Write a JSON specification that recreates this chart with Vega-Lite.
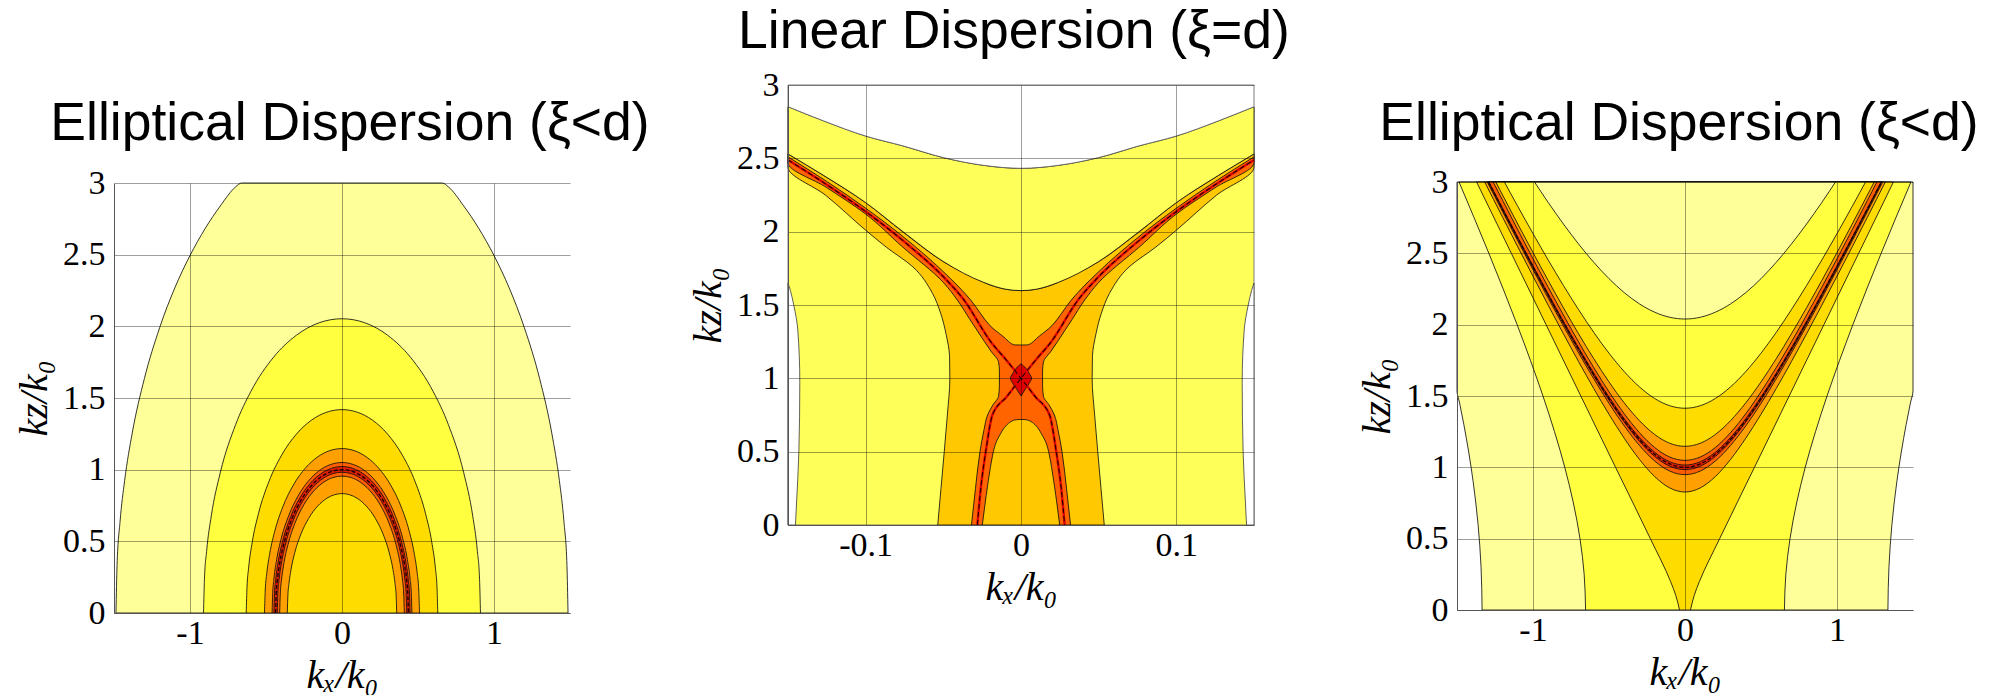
{
"$schema": "https://vega.github.io/schema/vega-lite/v6.json",
"background": "white",
"padding": {"left": 14, "top": 4, "right": 0, "bottom": 0},
"config": {
 "view": {"stroke": null},
 "area": {"interpolate": "monotone", "stroke": "#111", "strokeWidth": 0.85, "opacity": 1},
 "line": {"interpolate": "monotone"},
 "axis": {"labelFont": "Liberation Serif", "labelFontSize": 34, "labelColor": "#000", "labelPadding": 9, "labelFlush": false,
  "titleFont": "Liberation Serif", "titleFontSize": 40, "titleFontStyle": "italic", "titleFontWeight": "normal", "titleColor": "#000",
  "grid": true, "gridColor": "#000", "gridOpacity": 0.38, "gridWidth": 1, "ticks": false, "domainColor": "#555", "domainWidth": 1, "zindex": 1},
 "axisX": {"titlePadding": 5, "labelPadding": 3},
 "axisY": {"titlePadding": 8},
 "title": {"font": "Liberation Sans", "fontSize": 53.5, "fontWeight": "normal", "color": "#000"}
},
"hconcat": [
{"hconcat": [
{"vconcat": [
{"width": 456, "height": 11, "data": {"values": [{}]}, "mark": {"type": "text", "text": ""}},
{
 "width": 456, "height": 430,
 "title": {"text": "Elliptical Dispersion (ξ<d)", "offset": 15, "dx": 8},
 "data": {"values": [
  {"c":"e1","x":-1.487,"y":0},{"c":"e1","x":-1.48,"y":0.33},{"c":"e1","x":-1.46,"y":0.64},{"c":"e1","x":-1.43,"y":0.924},{"c":"e1","x":-1.38,"y":1.256},{"c":"e1","x":-1.3,"y":1.636},{"c":"e1","x":-1.2,"y":1.99},{"c":"e1","x":-1.1,"y":2.268},{"c":"e1","x":-1,"y":2.494},{"c":"e1","x":-0.9,"y":2.683},{"c":"e1","x":-0.8,"y":2.841},{"c":"e1","x":-0.7,"y":2.973},{"c":"e1","x":-0.66,"y":3},{"c":"e1","x":0,"y":3},{"c":"e1","x":0.66,"y":3},{"c":"e1","x":0.7,"y":2.973},{"c":"e1","x":0.8,"y":2.841},{"c":"e1","x":0.9,"y":2.683},{"c":"e1","x":1,"y":2.494},{"c":"e1","x":1.1,"y":2.268},{"c":"e1","x":1.2,"y":1.99},{"c":"e1","x":1.3,"y":1.636},{"c":"e1","x":1.38,"y":1.256},{"c":"e1","x":1.43,"y":0.924},{"c":"e1","x":1.46,"y":0.64},{"c":"e1","x":1.48,"y":0.33},{"c":"e1","x":1.487,"y":0},
  {"c":"e2","x":-0.911,"y":0},{"c":"e2","x":-0.905,"y":0.235},{"c":"e2","x":-0.89,"y":0.438},{"c":"e2","x":-0.86,"y":0.677},{"c":"e2","x":-0.8,"y":0.982},{"c":"e2","x":-0.7,"y":1.314},{"c":"e2","x":-0.6,"y":1.545},{"c":"e2","x":-0.45,"y":1.785},{"c":"e2","x":-0.3,"y":1.938},{"c":"e2","x":-0.15,"y":2.025},{"c":"e2","x":0,"y":2.053},{"c":"e2","x":0.15,"y":2.025},{"c":"e2","x":0.3,"y":1.938},{"c":"e2","x":0.45,"y":1.785},{"c":"e2","x":0.6,"y":1.545},{"c":"e2","x":0.7,"y":1.314},{"c":"e2","x":0.8,"y":0.982},{"c":"e2","x":0.86,"y":0.677},{"c":"e2","x":0.89,"y":0.438},{"c":"e2","x":0.905,"y":0.235},{"c":"e2","x":0.911,"y":0},
  {"c":"e3","x":-0.63,"y":0},{"c":"e3","x":-0.625,"y":0.18},{"c":"e3","x":-0.615,"y":0.308},{"c":"e3","x":-0.59,"y":0.498},{"c":"e3","x":-0.55,"y":0.692},{"c":"e3","x":-0.48,"y":0.919},{"c":"e3","x":-0.4,"y":1.096},{"c":"e3","x":-0.3,"y":1.248},{"c":"e3","x":-0.2,"y":1.346},{"c":"e3","x":-0.1,"y":1.401},{"c":"e3","x":0,"y":1.419},{"c":"e3","x":0.1,"y":1.401},{"c":"e3","x":0.2,"y":1.346},{"c":"e3","x":0.3,"y":1.248},{"c":"e3","x":0.4,"y":1.096},{"c":"e3","x":0.48,"y":0.919},{"c":"e3","x":0.55,"y":0.692},{"c":"e3","x":0.59,"y":0.498},{"c":"e3","x":0.615,"y":0.308},{"c":"e3","x":0.625,"y":0.18},{"c":"e3","x":0.63,"y":0},
  {"c":"e4","x":-0.51,"y":0},{"c":"e4","x":-0.505,"y":0.16},{"c":"e4","x":-0.495,"y":0.276},{"c":"e4","x":-0.475,"y":0.417},{"c":"e4","x":-0.44,"y":0.58},{"c":"e4","x":-0.39,"y":0.739},{"c":"e4","x":-0.32,"y":0.893},{"c":"e4","x":-0.24,"y":1.012},{"c":"e4","x":-0.16,"y":1.089},{"c":"e4","x":-0.08,"y":1.133},{"c":"e4","x":0,"y":1.147},{"c":"e4","x":0.08,"y":1.133},{"c":"e4","x":0.16,"y":1.089},{"c":"e4","x":0.24,"y":1.012},{"c":"e4","x":0.32,"y":0.893},{"c":"e4","x":0.39,"y":0.739},{"c":"e4","x":0.44,"y":0.58},{"c":"e4","x":0.475,"y":0.417},{"c":"e4","x":0.495,"y":0.276},{"c":"e4","x":0.505,"y":0.16},{"c":"e4","x":0.51,"y":0},
  {"c":"e5","x":-0.46,"y":0},{"c":"e5","x":-0.456,"y":0.138},{"c":"e5","x":-0.448,"y":0.238},{"c":"e5","x":-0.43,"y":0.373},{"c":"e5","x":-0.4,"y":0.519},{"c":"e5","x":-0.35,"y":0.681},{"c":"e5","x":-0.29,"y":0.815},{"c":"e5","x":-0.22,"y":0.922},{"c":"e5","x":-0.15,"y":0.993},{"c":"e5","x":-0.075,"y":1.036},{"c":"e5","x":0,"y":1.05},{"c":"e5","x":0.075,"y":1.036},{"c":"e5","x":0.15,"y":0.993},{"c":"e5","x":0.22,"y":0.922},{"c":"e5","x":0.29,"y":0.815},{"c":"e5","x":0.35,"y":0.681},{"c":"e5","x":0.4,"y":0.519},{"c":"e5","x":0.43,"y":0.373},{"c":"e5","x":0.448,"y":0.238},{"c":"e5","x":0.456,"y":0.138},{"c":"e5","x":0.46,"y":0},
  {"c":"er","x":-0.448,"y":0},{"c":"er","x":-0.444,"y":0.136},{"c":"er","x":-0.436,"y":0.235},{"c":"er","x":-0.42,"y":0.356},{"c":"er","x":-0.39,"y":0.503},{"c":"er","x":-0.34,"y":0.666},{"c":"er","x":-0.28,"y":0.798},{"c":"er","x":-0.21,"y":0.903},{"c":"er","x":-0.14,"y":0.971},{"c":"er","x":-0.07,"y":1.009},{"c":"er","x":0,"y":1.022},{"c":"er","x":0.07,"y":1.009},{"c":"er","x":0.14,"y":0.971},{"c":"er","x":0.21,"y":0.903},{"c":"er","x":0.28,"y":0.798},{"c":"er","x":0.34,"y":0.666},{"c":"er","x":0.39,"y":0.503},{"c":"er","x":0.42,"y":0.356},{"c":"er","x":0.436,"y":0.235},{"c":"er","x":0.444,"y":0.136},{"c":"er","x":0.448,"y":0},
  {"c":"ei","x":-0.426,"y":0},{"c":"ei","x":-0.422,"y":0.134},{"c":"ei","x":-0.414,"y":0.232},{"c":"ei","x":-0.4,"y":0.338},{"c":"ei","x":-0.37,"y":0.487},{"c":"ei","x":-0.32,"y":0.648},{"c":"ei","x":-0.26,"y":0.778},{"c":"ei","x":-0.19,"y":0.879},{"c":"ei","x":-0.125,"y":0.939},{"c":"ei","x":-0.06,"y":0.972},{"c":"ei","x":0,"y":0.982},{"c":"ei","x":0.06,"y":0.972},{"c":"ei","x":0.125,"y":0.939},{"c":"ei","x":0.19,"y":0.879},{"c":"ei","x":0.26,"y":0.778},{"c":"ei","x":0.32,"y":0.648},{"c":"ei","x":0.37,"y":0.487},{"c":"ei","x":0.4,"y":0.338},{"c":"ei","x":0.414,"y":0.232},{"c":"ei","x":0.422,"y":0.134},{"c":"ei","x":0.426,"y":0},
  {"c":"e6","x":-0.41,"y":0},{"c":"e6","x":-0.406,"y":0.133},{"c":"e6","x":-0.398,"y":0.229},{"c":"e6","x":-0.385,"y":0.329},{"c":"e6","x":-0.355,"y":0.478},{"c":"e6","x":-0.31,"y":0.625},{"c":"e6","x":-0.25,"y":0.757},{"c":"e6","x":-0.18,"y":0.858},{"c":"e6","x":-0.12,"y":0.913},{"c":"e6","x":-0.06,"y":0.945},{"c":"e6","x":0,"y":0.955},{"c":"e6","x":0.06,"y":0.945},{"c":"e6","x":0.12,"y":0.913},{"c":"e6","x":0.18,"y":0.858},{"c":"e6","x":0.25,"y":0.757},{"c":"e6","x":0.31,"y":0.625},{"c":"e6","x":0.355,"y":0.478},{"c":"e6","x":0.385,"y":0.329},{"c":"e6","x":0.398,"y":0.229},{"c":"e6","x":0.406,"y":0.133},{"c":"e6","x":0.41,"y":0},
  {"c":"e7","x":-0.36,"y":0},{"c":"e7","x":-0.356,"y":0.124},{"c":"e7","x":-0.349,"y":0.204},{"c":"e7","x":-0.335,"y":0.305},{"c":"e7","x":-0.31,"y":0.424},{"c":"e7","x":-0.27,"y":0.551},{"c":"e7","x":-0.22,"y":0.659},{"c":"e7","x":-0.16,"y":0.746},{"c":"e7","x":-0.1,"y":0.8},{"c":"e7","x":-0.05,"y":0.825},{"c":"e7","x":0,"y":0.833},{"c":"e7","x":0.05,"y":0.825},{"c":"e7","x":0.1,"y":0.8},{"c":"e7","x":0.16,"y":0.746},{"c":"e7","x":0.22,"y":0.659},{"c":"e7","x":0.27,"y":0.551},{"c":"e7","x":0.31,"y":0.424},{"c":"e7","x":0.335,"y":0.305},{"c":"e7","x":0.349,"y":0.204},{"c":"e7","x":0.356,"y":0.124},{"c":"e7","x":0.36,"y":0},
  {"c":"d","x":-0.437,"y":0},{"c":"d","x":-0.433,"y":0.135},{"c":"d","x":-0.425,"y":0.233},{"c":"d","x":-0.41,"y":0.346},{"c":"d","x":-0.38,"y":0.494},{"c":"d","x":-0.33,"y":0.656},{"c":"d","x":-0.27,"y":0.786},{"c":"d","x":-0.2,"y":0.889},{"c":"d","x":-0.13,"y":0.955},{"c":"d","x":-0.065,"y":0.989},{"c":"d","x":0,"y":1},{"c":"d","x":0.065,"y":0.989},{"c":"d","x":0.13,"y":0.955},{"c":"d","x":0.2,"y":0.889},{"c":"d","x":0.27,"y":0.786},{"c":"d","x":0.33,"y":0.656},{"c":"d","x":0.38,"y":0.494},{"c":"d","x":0.41,"y":0.346},{"c":"d","x":0.425,"y":0.233},{"c":"d","x":0.433,"y":0.135},{"c":"d","x":0.437,"y":0}
 ]},
 "encoding": {
  "x": {"field": "x", "type": "quantitative", "stack": null, "scale": {"domain": [-1.5, 1.5], "nice": false, "zero": false}, "axis": {"values": [-1, 0, 1], "labelExpr": "''+datum.value", "title": "kₓ/k₀", "zindex": 1}},
  "y": {"field": "y", "type": "quantitative", "stack": null, "scale": {"domain": [0, 3], "nice": false}, "axis": {"values": [0, 0.5, 1, 1.5, 2, 2.5, 3], "labelExpr": "''+datum.value", "title": "kz/k₀", "zindex": 1}}
 },
 "layer": [
  {"transform": [{"filter": "datum.c=='e1'"}], "mark": {"type": "area", "fill": "#FFFF99"}},
  {"transform": [{"filter": "datum.c=='e2'"}], "mark": {"type": "area", "fill": "#FFFF40"}},
  {"transform": [{"filter": "datum.c=='e3'"}], "mark": {"type": "area", "fill": "#FFDC00"}},
  {"transform": [{"filter": "datum.c=='e4'"}], "mark": {"type": "area", "fill": "#FFA000"}},
  {"transform": [{"filter": "datum.c=='e5'"}], "mark": {"type": "area", "fill": "#FF5F00"}},
  {"transform": [{"filter": "datum.c=='er'"}], "mark": {"type": "area", "fill": "#E01E00"}},
  {"transform": [{"filter": "datum.c=='ei'"}], "mark": {"type": "area", "fill": "#FF5F00"}},
  {"transform": [{"filter": "datum.c=='e6'"}], "mark": {"type": "area", "fill": "#FFA000"}},
  {"transform": [{"filter": "datum.c=='e7'"}], "mark": {"type": "area", "fill": "#FFDC00"}},
  {"transform": [{"filter": "datum.c=='d'"}], "mark": {"type": "line", "stroke": "#200000", "strokeWidth": 1.4, "strokeDash": [4, 2]}},
  {"data": {"values": [{}]}, "mark": {"type": "rect", "fillOpacity": 0, "stroke": "#777", "strokeWidth": 1}, "encoding": {"x": {"datum": -1.5}, "x2": {"datum": 1.5}, "y": {"datum": 0}, "y2": {"datum": 3}}}
 ]
}], "spacing": 0},
{
 "width": 466, "height": 440,
 "title": {"text": "Linear Dispersion (ξ=d)", "offset": 9, "dx": -7},
 "data": {"values": [
  {"c":"yb","x":-0.15,"y":2.852},{"c":"yb","x":-0.127,"y":2.755},{"c":"yb","x":-0.1,"y":2.652},{"c":"yb","x":-0.076,"y":2.585},{"c":"yb","x":-0.05,"y":2.505},{"c":"yb","x":-0.024,"y":2.452},{"c":"yb","x":0,"y":2.432},{"c":"yb","x":0.024,"y":2.452},{"c":"yb","x":0.05,"y":2.505},{"c":"yb","x":0.076,"y":2.585},{"c":"yb","x":0.1,"y":2.652},{"c":"yb","x":0.127,"y":2.755},{"c":"yb","x":0.15,"y":2.852},
  {"c":"wl","y":0,"x":-0.15,"x2":-0.1452},{"c":"wl","y":0.15,"x":-0.15,"x2":-0.1445},{"c":"wl","y":0.5,"x":-0.15,"x2":-0.143},{"c":"wl","y":0.97,"x":-0.15,"x2":-0.1424},{"c":"wl","y":1.33,"x":-0.15,"x2":-0.1437},{"c":"wl","y":1.5,"x":-0.15,"x2":-0.1463},{"c":"wl","y":1.6,"x":-0.15,"x2":-0.1485},{"c":"wl","y":1.65,"x":-0.15,"x2":-0.15},
  {"c":"wr","y":0,"x":0.1452,"x2":0.15},{"c":"wr","y":0.15,"x":0.1445,"x2":0.15},{"c":"wr","y":0.5,"x":0.143,"x2":0.15},{"c":"wr","y":0.97,"x":0.1424,"x2":0.15},{"c":"wr","y":1.33,"x":0.1437,"x2":0.15},{"c":"wr","y":1.5,"x":0.1463,"x2":0.15},{"c":"wr","y":1.6,"x":0.1485,"x2":0.15},{"c":"wr","y":1.65,"x":0.15,"x2":0.15},
  {"c":"gf","y":0,"x":-0.0536,"x2":0.0536},{"c":"gf","y":0.25,"x":-0.0515,"x2":0.0515},{"c":"gf","y":0.5,"x":-0.0494,"x2":0.0494},{"c":"gf","y":0.75,"x":-0.0474,"x2":0.0474},{"c":"gf","y":1,"x":-0.0458,"x2":0.0458},{"c":"gf","y":1.15,"x":-0.046,"x2":0.046},{"c":"gf","y":1.3,"x":-0.0482,"x2":0.0482},{"c":"gf","y":1.443,"x":-0.0517,"x2":0.0517},{"c":"gf","y":1.58,"x":-0.057,"x2":0.057},{"c":"gf","y":1.76,"x":-0.0696,"x2":0.0696},{"c":"gf","y":1.895,"x":-0.0868,"x2":0.0868},{"c":"gf","y":2.01,"x":-0.1,"x2":0.1},{"c":"gf","y":2.25,"x":-0.126,"x2":0.126},{"c":"gf","y":2.44,"x":-0.15,"x2":0.15},{"c":"gf","y":2.53,"x":-0.15,"x2":0.15},
  {"c":"of","y":0,"x":-0.0319,"x2":0.0319},{"c":"of","y":0.25,"x":-0.0293,"x2":0.0293},{"c":"of","y":0.5,"x":-0.0264,"x2":0.0264},{"c":"of","y":0.65,"x":-0.0238,"x2":0.0238},{"c":"of","y":0.75,"x":-0.0215,"x2":0.0215},{"c":"of","y":0.82,"x":-0.018,"x2":0.018},{"c":"of","y":0.875,"x":-0.0145,"x2":0.0145},{"c":"of","y":0.95,"x":-0.0139,"x2":0.0139},{"c":"of","y":1.05,"x":-0.0139,"x2":0.0139},{"c":"of","y":1.114,"x":-0.0145,"x2":0.0145},{"c":"of","y":1.18,"x":-0.019,"x2":0.019},{"c":"of","y":1.25,"x":-0.0235,"x2":0.0235},{"c":"of","y":1.4,"x":-0.0328,"x2":0.0328},{"c":"of","y":1.534,"x":-0.041,"x2":0.041},{"c":"of","y":1.648,"x":-0.0495,"x2":0.0495},{"c":"of","y":1.9,"x":-0.0767,"x2":0.0767},{"c":"of","y":2.12,"x":-0.1,"x2":0.1},{"c":"of","y":2.3,"x":-0.125,"x2":0.125},{"c":"of","y":2.47,"x":-0.15,"x2":0.15},{"c":"of","y":2.51,"x":-0.15,"x2":0.15},
  {"c":"gv","x":-0.15,"y":2.51,"y2":2.53},{"c":"gv","x":-0.125,"y":2.342,"y2":2.37},{"c":"gv","x":-0.1,"y":2.16,"y2":2.198},{"c":"gv","x":-0.075,"y":1.958,"y2":1.99},{"c":"gv","x":-0.05,"y":1.727,"y2":1.796},{"c":"gv","x":-0.0324,"y":1.534,"y2":1.7},{"c":"gv","x":-0.02,"y":1.36,"y2":1.637},{"c":"gv","x":-0.012,"y":1.29,"y2":1.612},{"c":"gv","x":-0.004,"y":1.228,"y2":1.6},{"c":"gv","x":0,"y":1.227,"y2":1.598},{"c":"gv","x":0.004,"y":1.228,"y2":1.6},{"c":"gv","x":0.012,"y":1.29,"y2":1.612},{"c":"gv","x":0.02,"y":1.36,"y2":1.637},{"c":"gv","x":0.0324,"y":1.534,"y2":1.7},{"c":"gv","x":0.05,"y":1.727,"y2":1.796},{"c":"gv","x":0.075,"y":1.958,"y2":1.99},{"c":"gv","x":0.1,"y":2.16,"y2":2.198},{"c":"gv","x":0.125,"y":2.342,"y2":2.37},{"c":"gv","x":0.15,"y":2.51,"y2":2.53},
  {"c":"yv","x":-0.15,"y":2.53,"y2":2.852},{"c":"yv","x":-0.127,"y":2.383,"y2":2.755},{"c":"yv","x":-0.1,"y":2.198,"y2":2.652},{"c":"yv","x":-0.076,"y":2.0,"y2":2.585},{"c":"yv","x":-0.05,"y":1.796,"y2":2.505},{"c":"yv","x":-0.024,"y":1.654,"y2":2.452},{"c":"yv","x":-0.01,"y":1.608,"y2":2.436},{"c":"yv","x":0,"y":1.598,"y2":2.432},{"c":"yv","x":0.01,"y":1.608,"y2":2.436},{"c":"yv","x":0.024,"y":1.654,"y2":2.452},{"c":"yv","x":0.05,"y":1.796,"y2":2.505},{"c":"yv","x":0.076,"y":2.0,"y2":2.585},{"c":"yv","x":0.1,"y":2.198,"y2":2.652},{"c":"yv","x":0.127,"y":2.383,"y2":2.755},{"c":"yv","x":0.15,"y":2.53,"y2":2.852},
  {"c":"gl","x":-0.0249,"y":0},{"c":"gl","x":-0.0216,"y":0.261},{"c":"gl","x":-0.0178,"y":0.5},{"c":"gl","x":-0.013,"y":0.625},{"c":"gl","x":-0.0065,"y":0.705},{"c":"gl","x":-0.003,"y":0.718},{"c":"gl","x":0,"y":0.72},{"c":"gl","x":0.003,"y":0.718},{"c":"gl","x":0.0065,"y":0.705},{"c":"gl","x":0.013,"y":0.625},{"c":"gl","x":0.0178,"y":0.5},{"c":"gl","x":0.0216,"y":0.261},{"c":"gl","x":0.0249,"y":0},
  {"c":"rd","y":0.88,"x":0,"x2":0},{"c":"rd","y":0.93,"x":-0.003,"x2":0.003},{"c":"rd","y":0.97,"x":-0.0055,"x2":0.0055},{"c":"rd","y":1.0,"x":-0.0068,"x2":0.0068},{"c":"rd","y":1.03,"x":-0.0055,"x2":0.0055},{"c":"rd","y":1.07,"x":-0.003,"x2":0.003},{"c":"rd","y":1.1,"x":0,"x2":0},
  {"c":"la","x":-0.15,"y":2.489},{"c":"la","x":-0.125,"y":2.32},{"c":"la","x":-0.1,"y":2.137},{"c":"la","x":-0.075,"y":1.93},{"c":"la","x":-0.05,"y":1.693},{"c":"la","x":-0.0367,"y":1.534},{"c":"la","x":-0.0195,"y":1.25},{"c":"la","x":-0.0095,"y":1.125},{"c":"la","x":0,"y":1.0},{"c":"la","x":0.0092,"y":0.875},{"c":"la","x":0.0184,"y":0.75},{"c":"la","x":0.0227,"y":0.5},{"c":"la","x":0.0259,"y":0.25},{"c":"la","x":0.0281,"y":0},
  {"c":"lb","x":-0.0281,"y":0},{"c":"lb","x":-0.0259,"y":0.25},{"c":"lb","x":-0.0227,"y":0.5},{"c":"lb","x":-0.0184,"y":0.75},{"c":"lb","x":-0.0092,"y":0.875},{"c":"lb","x":0,"y":1.0},{"c":"lb","x":0.0095,"y":1.125},{"c":"lb","x":0.0195,"y":1.25},{"c":"lb","x":0.0367,"y":1.534},{"c":"lb","x":0.05,"y":1.693},{"c":"lb","x":0.075,"y":1.93},{"c":"lb","x":0.1,"y":2.137},{"c":"lb","x":0.125,"y":2.32},{"c":"lb","x":0.15,"y":2.489}
 ]},
 "encoding": {
  "x": {"field": "x", "type": "quantitative", "stack": null, "scale": {"domain": [-0.15, 0.15], "nice": false, "zero": false}, "axis": {"values": [-0.1, 0, 0.1], "labelExpr": "''+datum.value", "title": "kₓ/k₀", "zindex": 1}},
  "y": {"field": "y", "type": "quantitative", "stack": null, "scale": {"domain": [0, 3], "nice": false}, "axis": {"values": [0, 0.5, 1, 1.5, 2, 2.5, 3], "labelExpr": "''+datum.value", "title": "kz/k₀", "zindex": 1}}
 },
 "layer": [
  {"transform": [{"filter": "datum.c=='yb'"}], "mark": {"type": "area", "fill": "#FFFF5A", "stroke": "#666"}},
  {"transform": [{"filter": "datum.c=='wl'"}], "mark": {"type": "area", "orient": "horizontal", "fill": "#FFFFFF", "stroke": "#444"}, "encoding": {"x2": {"field": "x2"}}},
  {"transform": [{"filter": "datum.c=='wr'"}], "mark": {"type": "area", "orient": "horizontal", "fill": "#FFFFFF", "stroke": "#444"}, "encoding": {"x2": {"field": "x2"}}},
  {"transform": [{"filter": "datum.c=='gf'"}], "mark": {"type": "area", "orient": "horizontal", "fill": "#FFC800"}, "encoding": {"x2": {"field": "x2"}}},
  {"transform": [{"filter": "datum.c=='of'"}], "mark": {"type": "area", "orient": "horizontal", "fill": "#FF6400"}, "encoding": {"x2": {"field": "x2"}}},
  {"transform": [{"filter": "datum.c=='gv'"}], "mark": {"type": "area", "fill": "#FFC800"}, "encoding": {"y2": {"field": "y2"}}},
  {"transform": [{"filter": "datum.c=='yv'"}], "mark": {"type": "area", "fill": "#FFFF5A"}, "encoding": {"y2": {"field": "y2"}}},
  {"transform": [{"filter": "datum.c=='yb'"}], "mark": {"type": "area", "fill": "#FFFFFF", "stroke": "#666"}, "encoding": {"y2": {"datum": 3}}},
  {"transform": [{"filter": "datum.c=='gl'"}], "mark": {"type": "area", "fill": "#FFC800"}},
  {"transform": [{"filter": "datum.c=='rd'"}], "mark": {"type": "area", "orient": "horizontal", "fill": "#E00000"}, "encoding": {"x2": {"field": "x2"}}},
  {"transform": [{"filter": "datum.c=='la'||datum.c=='lb'"}], "mark": {"type": "line", "stroke": "#E00000", "strokeWidth": 2.4}, "encoding": {"detail": {"field": "c"}}},
  {"transform": [{"filter": "datum.c=='la'||datum.c=='lb'"}], "mark": {"type": "line", "stroke": "#200000", "strokeWidth": 1.1, "strokeDash": [5, 3]}, "encoding": {"detail": {"field": "c"}}},
  {"data": {"values": [{}]}, "mark": {"type": "rect", "fillOpacity": 0, "stroke": "#777", "strokeWidth": 1}, "encoding": {"x": {"datum": -0.15}, "x2": {"datum": 0.15}, "y": {"datum": 0}, "y2": {"datum": 3}}}
 ]
}
], "spacing": 38},
{"vconcat": [
{"width": 456, "height": 11, "data": {"values": [{}]}, "mark": {"type": "text", "text": ""}},
{
 "width": 456, "height": 428,
 "title": {"text": "Elliptical Dispersion (ξ<d)", "offset": 14, "dx": -6},
 "data": {"values": [
  {"c":"h1","y":0,"x":-1.335,"x2":1.335},{"c":"h1","y":0.3,"x":-1.3417,"x2":1.3417},{"c":"h1","y":0.6,"x":-1.3614,"x2":1.3614},{"c":"h1","y":0.9,"x":-1.3938,"x2":1.3938},{"c":"h1","y":1.1,"x":-1.4219,"x2":1.4219},{"c":"h1","y":1.3,"x":-1.455,"x2":1.455},{"c":"h1","y":1.45,"x":-1.4828,"x2":1.4828},{"c":"h1","y":1.537,"x":-1.5,"x2":1.5},{"c":"h1","y":3,"x":-1.5,"x2":1.5},
  {"c":"h2","y":0,"x":-0.654,"x2":0.654},{"c":"h2","y":0.25,"x":-0.6634,"x2":0.6634},{"c":"h2","y":0.5,"x":-0.6908,"x2":0.6908},{"c":"h2","y":0.75,"x":-0.7343,"x2":0.7343},{"c":"h2","y":1,"x":-0.791,"x2":0.791},{"c":"h2","y":1.25,"x":-0.8586,"x2":0.8586},{"c":"h2","y":1.5,"x":-0.9345,"x2":0.9345},{"c":"h2","y":1.75,"x":-1.017,"x2":1.017},{"c":"h2","y":2,"x":-1.1045,"x2":1.1045},{"c":"h2","y":2.25,"x":-1.196,"x2":1.196},{"c":"h2","y":2.5,"x":-1.2905,"x2":1.2905},{"c":"h2","y":2.75,"x":-1.3876,"x2":1.3876},{"c":"h2","y":3,"x":-1.4866,"x2":1.4866},
  {"c":"h3","y":0,"x":-0.036,"x2":0.036},{"c":"h3","y":0.1,"x":-0.06,"x2":0.06},{"c":"h3","y":0.2,"x":-0.095,"x2":0.095},{"c":"h3","y":0.5,"x":-0.228,"x2":0.228},{"c":"h3","y":1,"x":-0.457,"x2":0.457},{"c":"h3","y":1.5,"x":-0.6855,"x2":0.6855},{"c":"h3","y":2,"x":-0.914,"x2":0.914},{"c":"h3","y":2.5,"x":-1.1425,"x2":1.1425},{"c":"h3","y":3,"x":-1.371,"x2":1.371},
  {"c":"h4","x":-1.318,"y":3},{"c":"h4","x":-1.26,"y":2.8785},{"c":"h4","x":-1.2,"y":2.753},{"c":"h4","x":-1.1,"y":2.5451},{"c":"h4","x":-1,"y":2.3393},{"c":"h4","x":-0.9,"y":2.136},{"c":"h4","x":-0.8,"y":1.9361},{"c":"h4","x":-0.7,"y":1.7408},{"c":"h4","x":-0.6,"y":1.5517},{"c":"h4","x":-0.5,"y":1.3715},{"c":"h4","x":-0.4,"y":1.2042},{"c":"h4","x":-0.3,"y":1.0559},{"c":"h4","x":-0.2,"y":0.9357},{"c":"h4","x":-0.1,"y":0.8555},{"c":"h4","x":0,"y":0.827},{"c":"h4","x":0.1,"y":0.8555},{"c":"h4","x":0.2,"y":0.9357},{"c":"h4","x":0.3,"y":1.0559},{"c":"h4","x":0.4,"y":1.2042},{"c":"h4","x":0.5,"y":1.3715},{"c":"h4","x":0.6,"y":1.5517},{"c":"h4","x":0.7,"y":1.7408},{"c":"h4","x":0.8,"y":1.9361},{"c":"h4","x":0.9,"y":2.136},{"c":"h4","x":1,"y":2.3393},{"c":"h4","x":1.1,"y":2.5451},{"c":"h4","x":1.2,"y":2.753},{"c":"h4","x":1.26,"y":2.8785},{"c":"h4","x":1.318,"y":3},
  {"c":"h5","x":-1.3006,"y":3},{"c":"h5","x":-1.25,"y":2.8951},{"c":"h5","x":-1.2,"y":2.792},{"c":"h5","x":-1.1,"y":2.5872},{"c":"h5","x":-1,"y":2.385},{"c":"h5","x":-0.9,"y":2.186},{"c":"h5","x":-0.8,"y":1.9911},{"c":"h5","x":-0.7,"y":1.8017},{"c":"h5","x":-0.6,"y":1.6198},{"c":"h5","x":-0.5,"y":1.4481},{"c":"h5","x":-0.4,"y":1.2908},{"c":"h5","x":-0.3,"y":1.1537},{"c":"h5","x":-0.2,"y":1.0448},{"c":"h5","x":-0.1,"y":0.9736},{"c":"h5","x":0,"y":0.9487},{"c":"h5","x":0.1,"y":0.9736},{"c":"h5","x":0.2,"y":1.0448},{"c":"h5","x":0.3,"y":1.1537},{"c":"h5","x":0.4,"y":1.2908},{"c":"h5","x":0.5,"y":1.4481},{"c":"h5","x":0.6,"y":1.6198},{"c":"h5","x":0.7,"y":1.8017},{"c":"h5","x":0.8,"y":1.9911},{"c":"h5","x":0.9,"y":2.186},{"c":"h5","x":1,"y":2.385},{"c":"h5","x":1.1,"y":2.5872},{"c":"h5","x":1.2,"y":2.792},{"c":"h5","x":1.25,"y":2.8951},{"c":"h5","x":1.3006,"y":3},
  {"c":"h6","x":-1.2952,"y":3},{"c":"h6","x":-1.25,"y":2.9068},{"c":"h6","x":-1.2,"y":2.8041},{"c":"h6","x":-1.1,"y":2.6006},{"c":"h6","x":-1,"y":2.3993},{"c":"h6","x":-0.9,"y":2.2015},{"c":"h6","x":-0.8,"y":2.008},{"c":"h6","x":-0.7,"y":1.8208},{"c":"h6","x":-0.6,"y":1.6409},{"c":"h6","x":-0.5,"y":1.4715},{"c":"h6","x":-0.4,"y":1.3176},{"c":"h6","x":-0.3,"y":1.1827},{"c":"h6","x":-0.2,"y":1.0766},{"c":"h6","x":-0.1,"y":1.0076},{"c":"h6","x":0,"y":0.9839},{"c":"h6","x":0.1,"y":1.0076},{"c":"h6","x":0.2,"y":1.0766},{"c":"h6","x":0.3,"y":1.1827},{"c":"h6","x":0.4,"y":1.3176},{"c":"h6","x":0.5,"y":1.4715},{"c":"h6","x":0.6,"y":1.6409},{"c":"h6","x":0.7,"y":1.8208},{"c":"h6","x":0.8,"y":2.008},{"c":"h6","x":0.9,"y":2.2015},{"c":"h6","x":1,"y":2.3993},{"c":"h6","x":1.1,"y":2.6006},{"c":"h6","x":1.2,"y":2.8041},{"c":"h6","x":1.25,"y":2.9068},{"c":"h6","x":1.2952,"y":3},
  {"c":"h7","x":-1.29,"y":3},{"c":"h7","x":-1.25,"y":2.9178},{"c":"h7","x":-1.2,"y":2.8155},{"c":"h7","x":-1.1,"y":2.6127},{"c":"h7","x":-1,"y":2.4127},{"c":"h7","x":-0.9,"y":2.216},{"c":"h7","x":-0.8,"y":2.0239},{"c":"h7","x":-0.7,"y":1.8379},{"c":"h7","x":-0.6,"y":1.66},{"c":"h7","x":-0.5,"y":1.493},{"c":"h7","x":-0.4,"y":1.3411},{"c":"h7","x":-0.3,"y":1.2097},{"c":"h7","x":-0.2,"y":1.1061},{"c":"h7","x":-0.1,"y":1.0392},{"c":"h7","x":0,"y":1.0159},{"c":"h7","x":0.1,"y":1.0392},{"c":"h7","x":0.2,"y":1.1061},{"c":"h7","x":0.3,"y":1.2097},{"c":"h7","x":0.4,"y":1.3411},{"c":"h7","x":0.5,"y":1.493},{"c":"h7","x":0.6,"y":1.66},{"c":"h7","x":0.7,"y":1.8379},{"c":"h7","x":0.8,"y":2.0239},{"c":"h7","x":0.9,"y":2.216},{"c":"h7","x":1,"y":2.4127},{"c":"h7","x":1.1,"y":2.6127},{"c":"h7","x":1.2,"y":2.8155},{"c":"h7","x":1.25,"y":2.9178},{"c":"h7","x":1.29,"y":3},
  {"c":"h8","x":-1.262,"y":3},{"c":"h8","x":-1.23,"y":2.9333},{"c":"h8","x":-1.2,"y":2.871},{"c":"h8","x":-1.1,"y":2.665},{"c":"h8","x":-1,"y":2.4618},{"c":"h8","x":-0.9,"y":2.2623},{"c":"h8","x":-0.8,"y":2.0675},{"c":"h8","x":-0.7,"y":1.879},{"c":"h8","x":-0.6,"y":1.6987},{"c":"h8","x":-0.5,"y":1.5297},{"c":"h8","x":-0.4,"y":1.3761},{"c":"h8","x":-0.3,"y":1.2436},{"c":"h8","x":-0.2,"y":1.1395},{"c":"h8","x":-0.1,"y":1.0722},{"c":"h8","x":0,"y":1.0488},{"c":"h8","x":0.1,"y":1.0722},{"c":"h8","x":0.2,"y":1.1395},{"c":"h8","x":0.3,"y":1.2436},{"c":"h8","x":0.4,"y":1.3761},{"c":"h8","x":0.5,"y":1.5297},{"c":"h8","x":0.6,"y":1.6987},{"c":"h8","x":0.7,"y":1.879},{"c":"h8","x":0.8,"y":2.0675},{"c":"h8","x":0.9,"y":2.2623},{"c":"h8","x":1,"y":2.4618},{"c":"h8","x":1.1,"y":2.665},{"c":"h8","x":1.2,"y":2.871},{"c":"h8","x":1.23,"y":2.9333},{"c":"h8","x":1.262,"y":3},
  {"c":"h9","x":-1.2446,"y":3},{"c":"h9","x":-1.22,"y":2.9494},{"c":"h9","x":-1.2,"y":2.9084},{"c":"h9","x":-1.1,"y":2.7052},{"c":"h9","x":-1,"y":2.5053},{"c":"h9","x":-0.9,"y":2.3095},{"c":"h9","x":-0.8,"y":2.1191},{"c":"h9","x":-0.7,"y":1.9356},{"c":"h9","x":-0.6,"y":1.7612},{"c":"h9","x":-0.5,"y":1.5988},{"c":"h9","x":-0.4,"y":1.4524},{"c":"h9","x":-0.3,"y":1.3276},{"c":"h9","x":-0.2,"y":1.2306},{"c":"h9","x":-0.1,"y":1.1686},{"c":"h9","x":0,"y":1.1472},{"c":"h9","x":0.1,"y":1.1686},{"c":"h9","x":0.2,"y":1.2306},{"c":"h9","x":0.3,"y":1.3276},{"c":"h9","x":0.4,"y":1.4524},{"c":"h9","x":0.5,"y":1.5988},{"c":"h9","x":0.6,"y":1.7612},{"c":"h9","x":0.7,"y":1.9356},{"c":"h9","x":0.8,"y":2.1191},{"c":"h9","x":0.9,"y":2.3095},{"c":"h9","x":1,"y":2.5053},{"c":"h9","x":1.1,"y":2.7052},{"c":"h9","x":1.2,"y":2.9084},{"c":"h9","x":1.22,"y":2.9494},{"c":"h9","x":1.2446,"y":3},
  {"c":"h10","x":-1.188,"y":3},{"c":"h10","x":-1.15,"y":2.9257},{"c":"h10","x":-1.1,"y":2.8288},{"c":"h10","x":-1,"y":2.6382},{"c":"h10","x":-0.9,"y":2.4531},{"c":"h10","x":-0.8,"y":2.2748},{"c":"h10","x":-0.7,"y":2.1049},{"c":"h10","x":-0.6,"y":1.9457},{"c":"h10","x":-0.5,"y":1.8},{"c":"h10","x":-0.4,"y":1.6714},{"c":"h10","x":-0.3,"y":1.5641},{"c":"h10","x":-0.2,"y":1.4827},{"c":"h10","x":-0.1,"y":1.4317},{"c":"h10","x":0,"y":1.4142},{"c":"h10","x":0.1,"y":1.4317},{"c":"h10","x":0.2,"y":1.4827},{"c":"h10","x":0.3,"y":1.5641},{"c":"h10","x":0.4,"y":1.6714},{"c":"h10","x":0.5,"y":1.8},{"c":"h10","x":0.6,"y":1.9457},{"c":"h10","x":0.7,"y":2.1049},{"c":"h10","x":0.8,"y":2.2748},{"c":"h10","x":0.9,"y":2.4531},{"c":"h10","x":1,"y":2.6382},{"c":"h10","x":1.1,"y":2.8288},{"c":"h10","x":1.15,"y":2.9257},{"c":"h10","x":1.188,"y":3},
  {"c":"h11","x":-0.99,"y":3},{"c":"h11","x":-0.95,"y":2.9354},{"c":"h11","x":-0.9,"y":2.8566},{"c":"h11","x":-0.8,"y":2.7057},{"c":"h11","x":-0.7,"y":2.5651},{"c":"h11","x":-0.6,"y":2.4368},{"c":"h11","x":-0.5,"y":2.3226},{"c":"h11","x":-0.4,"y":2.2249},{"c":"h11","x":-0.3,"y":2.1458},{"c":"h11","x":-0.2,"y":2.0875},{"c":"h11","x":-0.1,"y":2.0517},{"c":"h11","x":0,"y":2.0396},{"c":"h11","x":0.1,"y":2.0517},{"c":"h11","x":0.2,"y":2.0875},{"c":"h11","x":0.3,"y":2.1458},{"c":"h11","x":0.4,"y":2.2249},{"c":"h11","x":0.5,"y":2.3226},{"c":"h11","x":0.6,"y":2.4368},{"c":"h11","x":0.7,"y":2.5651},{"c":"h11","x":0.8,"y":2.7057},{"c":"h11","x":0.9,"y":2.8566},{"c":"h11","x":0.95,"y":2.9354},{"c":"h11","x":0.99,"y":3},
  {"c":"d3","x":-1.2926,"y":3},{"c":"d3","x":-1.25,"y":2.9123},{"c":"d3","x":-1.2,"y":2.8098},{"c":"d3","x":-1.1,"y":2.6065},{"c":"d3","x":-1,"y":2.406},{"c":"d3","x":-0.9,"y":2.2087},{"c":"d3","x":-0.8,"y":2.016},{"c":"d3","x":-0.7,"y":1.8292},{"c":"d3","x":-0.6,"y":1.6504},{"c":"d3","x":-0.5,"y":1.4822},{"c":"d3","x":-0.4,"y":1.329},{"c":"d3","x":-0.3,"y":1.1964},{"c":"d3","x":-0.2,"y":1.0915},{"c":"d3","x":-0.1,"y":1.0237},{"c":"d3","x":0,"y":1},{"c":"d3","x":0.1,"y":1.0237},{"c":"d3","x":0.2,"y":1.0915},{"c":"d3","x":0.3,"y":1.1964},{"c":"d3","x":0.4,"y":1.329},{"c":"d3","x":0.5,"y":1.4822},{"c":"d3","x":0.6,"y":1.6504},{"c":"d3","x":0.7,"y":1.8292},{"c":"d3","x":0.8,"y":2.016},{"c":"d3","x":0.9,"y":2.2087},{"c":"d3","x":1,"y":2.406},{"c":"d3","x":1.1,"y":2.6065},{"c":"d3","x":1.2,"y":2.8098},{"c":"d3","x":1.25,"y":2.9123},{"c":"d3","x":1.2926,"y":3}
 ]},
 "encoding": {
  "x": {"field": "x", "type": "quantitative", "stack": null, "scale": {"domain": [-1.5, 1.5], "nice": false, "zero": false}, "axis": {"values": [-1, 0, 1], "labelExpr": "''+datum.value", "title": "kₓ/k₀", "zindex": 1}},
  "y": {"field": "y", "type": "quantitative", "stack": null, "scale": {"domain": [0, 3], "nice": false}, "axis": {"values": [0, 0.5, 1, 1.5, 2, 2.5, 3], "labelExpr": "''+datum.value", "title": "kz/k₀", "zindex": 1}}
 },
 "layer": [
  {"transform": [{"filter": "datum.c=='h1'"}], "mark": {"type": "area", "orient": "horizontal", "fill": "#FFFF99"}, "encoding": {"x2": {"field": "x2"}}},
  {"transform": [{"filter": "datum.c=='h2'"}], "mark": {"type": "area", "orient": "horizontal", "fill": "#FFFF40"}, "encoding": {"x2": {"field": "x2"}}},
  {"transform": [{"filter": "datum.c=='h3'"}], "mark": {"type": "area", "orient": "horizontal", "fill": "#FFDC00"}, "encoding": {"x2": {"field": "x2"}}},
  {"transform": [{"filter": "datum.c=='h4'"}], "mark": {"type": "area", "fill": "#FFA000"}, "encoding": {"y2": {"datum": 3}}},
  {"transform": [{"filter": "datum.c=='h5'"}], "mark": {"type": "area", "fill": "#FF5F00"}, "encoding": {"y2": {"datum": 3}}},
  {"transform": [{"filter": "datum.c=='h6'"}], "mark": {"type": "area", "fill": "#E01E00"}, "encoding": {"y2": {"datum": 3}}},
  {"transform": [{"filter": "datum.c=='h7'"}], "mark": {"type": "area", "fill": "#FF5F00"}, "encoding": {"y2": {"datum": 3}}},
  {"transform": [{"filter": "datum.c=='h8'"}], "mark": {"type": "area", "fill": "#FFA000"}, "encoding": {"y2": {"datum": 3}}},
  {"transform": [{"filter": "datum.c=='h9'"}], "mark": {"type": "area", "fill": "#FFDC00"}, "encoding": {"y2": {"datum": 3}}},
  {"transform": [{"filter": "datum.c=='h10'"}], "mark": {"type": "area", "fill": "#FFFF40"}, "encoding": {"y2": {"datum": 3}}},
  {"transform": [{"filter": "datum.c=='h11'"}], "mark": {"type": "area", "fill": "#FFFF99"}, "encoding": {"y2": {"datum": 3}}},
  {"transform": [{"filter": "datum.c=='d3'"}], "mark": {"type": "line", "stroke": "#200000", "strokeWidth": 1.4, "strokeDash": [4, 2]}},
  {"data": {"values": [{}]}, "mark": {"type": "rect", "fillOpacity": 0, "stroke": "#777", "strokeWidth": 1}, "encoding": {"x": {"datum": -1.5}, "x2": {"datum": 1.5}, "y": {"datum": 0}, "y2": {"datum": 3}}}
 ]
}], "spacing": 0}
],
"spacing": 67
}
